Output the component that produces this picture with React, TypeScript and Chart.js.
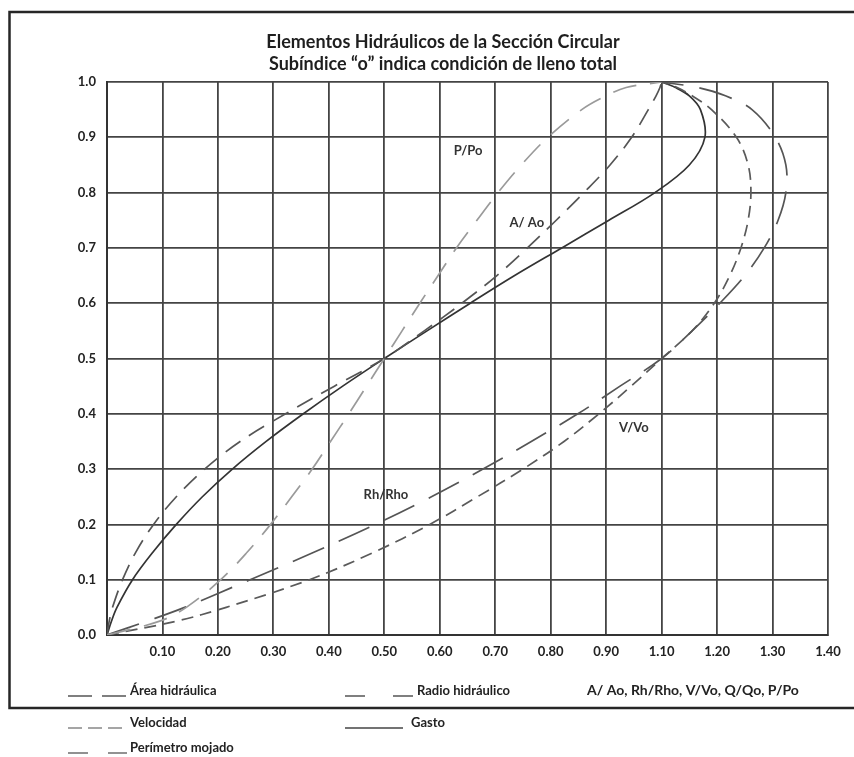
import React, { useEffect, useRef } from 'react';
import { Chart, registerables } from 'chart.js';

Chart.register(...registerables);

// Relative depth y/D (vertical axis)
const depthRatio = [0, 0.025, 0.05, 0.1, 0.15, 0.2, 0.25, 0.3, 0.35, 0.4, 0.45, 0.5, 0.55, 0.6, 0.65, 0.7, 0.75, 0.8, 0.85, 0.9, 0.95, 0.975, 0.99, 1.0];

// Hydraulic element ratios read at each depth
const areaRatio = [0, 0.004, 0.01, 0.028, 0.052, 0.084, 0.125, 0.176, 0.24, 0.322, 0.41, 0.5, 0.572, 0.64, 0.703, 0.758, 0.81, 0.86, 0.907, 0.946, 0.976, 0.99, 0.997, 1.0];
const radiusRatio = [0, 0.072, 0.14, 0.258, 0.374, 0.484, 0.585, 0.678, 0.765, 0.849, 0.925, 1.0, 1.055, 1.105, 1.15, 1.185, 1.21, 1.224, 1.224, 1.205, 1.163, 1.115, 1.065, 1.0];
const velocityRatio = [0, 0.125, 0.215, 0.365, 0.482, 0.582, 0.668, 0.75, 0.824, 0.887, 0.945, 1.0, 1.055, 1.095, 1.123, 1.143, 1.156, 1.161, 1.156, 1.135, 1.09, 1.055, 1.028, 1.0];
const flowRatio = [0, 0.008, 0.018, 0.046, 0.083, 0.125, 0.172, 0.226, 0.287, 0.354, 0.425, 0.5, 0.577, 0.655, 0.735, 0.82, 0.905, 0.988, 1.05, 1.078, 1.07, 1.05, 1.025, 1.0];
const perimeterRatio = [0, 0.095, 0.143, 0.205, 0.253, 0.295, 0.333, 0.37, 0.403, 0.436, 0.468, 0.5, 0.532, 0.564, 0.597, 0.63, 0.667, 0.705, 0.747, 0.795, 0.856, 0.9, 0.936, 1.0];

// Axis ticks
const xTickValues = [0, 0.1, 0.2, 0.3, 0.4, 0.5, 0.6, 0.7, 0.8, 0.9, 1.0, 1.1, 1.2, 1.3];
const xTickLabels = ['', '0.10', '0.20', '0.30', '0.40', '0.50', '0.60', '0.70', '0.80', '0.90', '1.10', '1.20', '1.30', '1.40'];
const yTickValues = [0, 0.1, 0.2, 0.3, 0.4, 0.5, 0.6, 0.7, 0.8, 0.9, 1.0];

// Texts
const titleLines = ['Elementos Hidráulicos de la Sección Circular', 'Subíndice “o” indica condición de lleno total'];
const seriesNames = ['Perímetro mojado', 'Área hidráulica', 'Radio hidráulico', 'Velocidad', 'Gasto'];
const curveTags = ['P/Po', 'A/ Ao', 'Rh/Rho', 'V/Vo'];
const axisCaption = 'A/ Ao, Rh/Rho, V/Vo, Q/Qo, P/Po';

const FONT = "Lato, 'Open Sans', sans-serif";

const toPoints = (xs: number[]) => depthRatio.map((y, i) => ({ x: xs[i], y }));

const decorPlugin = {
  id: 'decor',
  beforeDraw(chart: any) {
    const ctx = chart.ctx;
    ctx.save();
    ctx.fillStyle = '#ffffff';
    ctx.fillRect(0, 0, chart.width, chart.height);
    ctx.strokeStyle = '#262626';
    ctx.lineWidth = 2.5;
    ctx.beginPath();
    ctx.moveTo(860, 12);
    ctx.lineTo(9.5, 12);
    ctx.lineTo(9.5, 708);
    ctx.lineTo(860, 708);
    ctx.stroke();
    ctx.restore();
  },
  afterDraw(chart: any) {
    const ctx = chart.ctx;
    const xs = chart.scales.x;
    const ys = chart.scales.y;
    ctx.save();
    // title
    ctx.fillStyle = '#1e1e1e';
    ctx.textAlign = 'center';
    ctx.textBaseline = 'middle';
    ctx.font = `700 18px ${FONT}`;
    ctx.fillText(titleLines[0], 443, 42);
    ctx.fillText(titleLines[1], 443, 64);

    // curve tags
    ctx.font = `700 13px ${FONT}`;
    ctx.fillStyle = '#333';
    const tagPos = [
      [0.651, 0.875],
      [0.757, 0.745],
      [0.503, 0.253],
      [0.95, 0.374],
    ];
    curveTags.forEach((t, i) => {
      ctx.fillText(t, xs.getPixelForValue(tagPos[i][0]), ys.getPixelForValue(tagPos[i][1]));
    });

    // axis caption
    ctx.textAlign = 'left';
    ctx.font = `700 14px ${FONT}`;
    ctx.fillStyle = '#222';
    ctx.fillText(axisCaption, 587, 690);

    // legend
    const legend = [
      { name: seriesNames[1], x0: 68, x1: 127, y: 691, dash: [24, 10], color: '#555', tx: 130 },
      { name: seriesNames[2], x0: 345, x1: 413, y: 691, dash: [20, 28], color: '#555', tx: 417 },
      { name: seriesNames[3], x0: 68, x1: 127, y: 723, dash: [14, 6], color: '#888', tx: 130 },
      { name: seriesNames[4], x0: 345, x1: 403, y: 723, dash: [], color: '#444', tx: 411 },
      { name: seriesNames[0], x0: 68, x1: 127, y: 748, dash: [20, 20], color: '#777', tx: 130 },
    ];
    ctx.font = `700 13px ${FONT}`;
    legend.forEach((l) => {
      ctx.strokeStyle = l.color;
      ctx.lineWidth = 1.6;
      ctx.setLineDash(l.dash);
      ctx.beginPath();
      ctx.moveTo(l.x0, l.y + 5);
      ctx.lineTo(l.x1, l.y + 5);
      ctx.stroke();
      ctx.setLineDash([]);
      ctx.fillStyle = '#222';
      ctx.fillText(l.name, l.tx, l.y);
    });
    ctx.restore();
  },
};

export default function App() {
  const ref = useRef<HTMLCanvasElement | null>(null);

  useEffect(() => {
    if (!ref.current) return;
    const common = { showLine: true, pointRadius: 0, pointHoverRadius: 0, tension: 0.35, fill: false, borderWidth: 1.7 };
    const chart = new Chart(ref.current, {
      type: 'scatter',
      data: {
        datasets: [
          { ...common, label: seriesNames[0], data: toPoints(perimeterRatio), borderColor: '#9a9a9a', borderDash: [24, 14] },
          { ...common, label: seriesNames[1], data: toPoints(areaRatio), borderColor: '#555', borderDash: [18, 10] },
          { ...common, label: seriesNames[2], data: toPoints(radiusRatio), borderColor: '#555', borderDash: [34, 16] },
          { ...common, label: seriesNames[3], data: toPoints(velocityRatio), borderColor: '#5a5a5a', borderDash: [12, 7] },
          { ...common, label: seriesNames[4], data: toPoints(flowRatio), borderColor: '#333', borderDash: [] },
        ],
      },
      options: {
        animation: false,
        responsive: false,
        maintainAspectRatio: false,
        layout: { padding: { left: 0, top: 82, right: 26, bottom: 92 } },
        plugins: {
          legend: { display: false },
          title: { display: false },
          tooltip: { enabled: false },
        },
        scales: {
          x: {
            type: 'linear',
            min: 0,
            max: 1.3,
            afterBuildTicks: (axis: any) => {
              axis.ticks = xTickValues.map((v) => ({ value: v }));
            },
            afterFit: (axis: any) => {
              axis.height = 30;
            },
            ticks: {
              autoSkip: false,
              maxRotation: 0,
              padding: 9,
              color: '#222',
              font: { family: FONT, size: 13, weight: 'bold' },
              callback: (_v: any, i: number) => xTickLabels[i],
            },
            grid: { color: '#444', lineWidth: 1.8, drawTicks: false },
            border: { display: true, color: '#333', width: 2 },
          },
          y: {
            type: 'linear',
            min: 0,
            max: 1.0,
            afterBuildTicks: (axis: any) => {
              axis.ticks = yTickValues.map((v) => ({ value: v }));
            },
            afterFit: (axis: any) => {
              axis.width = 107;
            },
            ticks: {
              autoSkip: false,
              padding: 11,
              color: '#222',
              font: { family: FONT, size: 13, weight: 'bold' },
              callback: (v: any) => Number(v).toFixed(1),
            },
            grid: { color: '#444', lineWidth: 1.8, drawTicks: false },
            border: { display: true, color: '#333', width: 2 },
          },
        },
      } as any,
      plugins: [decorPlugin],
    });
    return () => chart.destroy();
  }, []);

  return (
    <canvas
      ref={ref}
      width={854}
      height={757}
      style={{ position: 'absolute', left: 0, top: 0, width: 854, height: 757, display: 'block' }}
    />
  );
}
